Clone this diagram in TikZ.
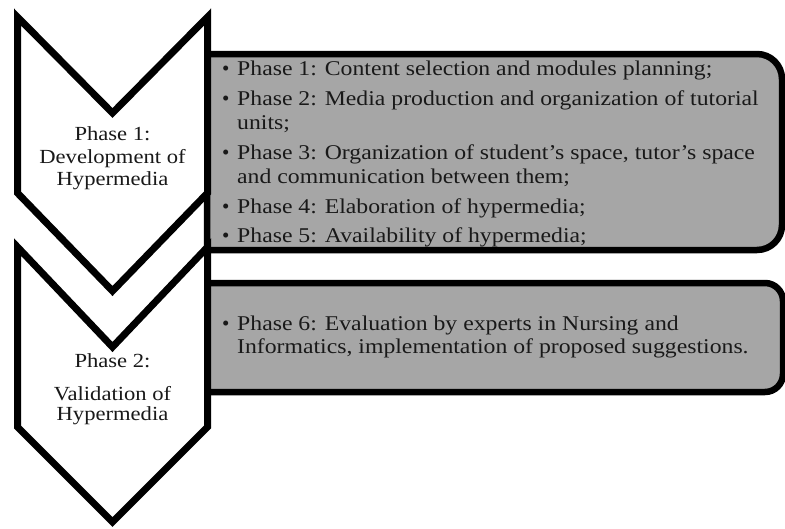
\documentclass[tikz,border=0pt]{standalone}
\usepackage{graphicx}
\usepackage{fontspec}
\setmainfont{Liberation Serif}
\definecolor{panelgray}{RGB}{166,166,166}
\definecolor{inkdark}{RGB}{25,25,25}
\newcommand{\stretchtxt}[1]{\scalebox{1.13}[1]{#1}}
\begin{document}
\begin{tikzpicture}[x=1pt,y=-1pt,
  chev/.style={draw=black,line width=7pt,fill=white},
  panel/.style={draw=black,line width=6.5pt,fill=panelgray},
  itemtxt/.style={anchor=base west,inner sep=0pt,text=inkdark,font=\fontsize{21}{23}\selectfont},
  phasetxt/.style={anchor=base,inner sep=0pt,text=inkdark,font=\fontsize{20}{22}\selectfont}]
\useasboundingbox (0,0) rectangle (785,528);
% panels
\draw[panel] (207,54) -- (757,54) .. controls (770.8,54) and (782,65.2) .. (782,79) -- (782,225) .. controls (782,238.8) and (770.8,250) .. (757,250) -- (207,250) -- cycle;
\draw[panel] (207,283) -- (765,283) .. controls (774.9,283) and (783,291.1) .. (783,301) -- (783,374) .. controls (783,383.9) and (774.9,392) .. (765,392) -- (207,392) -- cycle;
% chevrons
\draw[chev] (17.5,17) -- (112.5,113) -- (207.5,17) -- (207.5,193) -- (112.5,291) -- (17.5,193) -- cycle;
\draw[chev] (17.5,247) -- (112.5,347) -- (207.5,247) -- (207.5,427) -- (112.5,522) -- (17.5,427) -- cycle;
% chevron texts
\node[phasetxt] (c1a) at (112.5,140) {\stretchtxt{Phase 1:}};
\node[phasetxt] (c1b) at (112.5,163) {\stretchtxt{Development of}};
\node[phasetxt] (c1c) at (112.5,185) {\stretchtxt{Hypermedia}};
\node[phasetxt] (c2a) at (112.5,367) {\stretchtxt{Phase 2:}};
\node[phasetxt] (c2b) at (112.5,400) {\stretchtxt{Validation of}};
\node[phasetxt] (c2c) at (112.5,420) {\stretchtxt{Hypermedia}};
% panel 1 items
\node[itemtxt] (b1) at (222,75) {\textbullet};
\node[itemtxt] (t1) at (237,75) {\stretchtxt{Phase 1: Content selection and modules planning;}};
\node[itemtxt] (b2) at (222,105) {\textbullet};
\node[itemtxt] (t2a) at (237,105) {\stretchtxt{Phase 2: Media production and organization of tutorial}};
\node[itemtxt] (t2b) at (237,129) {\stretchtxt{units;}};
\node[itemtxt] (b3) at (222,159) {\textbullet};
\node[itemtxt] (t3a) at (237,159) {\stretchtxt{Phase 3: Organization of student’s space, tutor’s space}};
\node[itemtxt] (t3b) at (237,183) {\stretchtxt{and communication between them;}};
\node[itemtxt] (b4) at (222,213) {\textbullet};
\node[itemtxt] (t4) at (237,213) {\stretchtxt{Phase 4: Elaboration of hypermedia;}};
\node[itemtxt] (b5) at (222,242) {\textbullet};
\node[itemtxt] (t5) at (237,242) {\stretchtxt{Phase 5: Availability of hypermedia;}};
% panel 2 item
\node[itemtxt] (b6) at (222,330) {\textbullet};
\node[itemtxt] (t6a) at (237,330) {\stretchtxt{Phase 6: Evaluation by experts in Nursing and}};
\node[itemtxt] (t6b) at (237,353) {\stretchtxt{Informatics, implementation of proposed suggestions.}};
\end{tikzpicture}
\end{document}
